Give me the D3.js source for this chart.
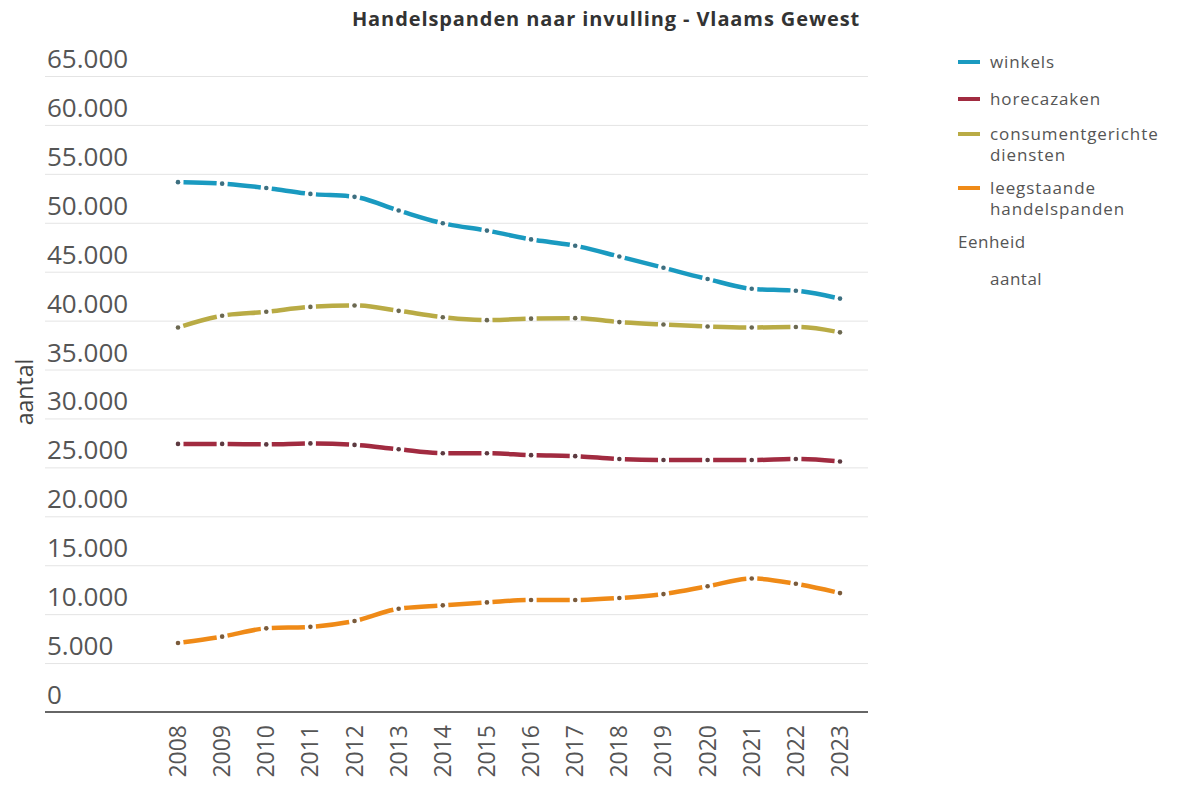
<!DOCTYPE html>
<html>
<head>
<meta charset="utf-8">
<script src="https://cdn.jsdelivr.net/npm/d3@7"></script>
<style>
  body { margin: 0; background: #fff; }
  text { font-family: "Open Sans", sans-serif; }
</style>
</head>
<body>
<svg width="1177" height="787"></svg>
<script>
// Data.
const years = [2008, 2009, 2010, 2011, 2012, 2013, 2014, 2015,
  2016, 2017, 2018, 2019, 2020, 2021, 2022, 2023];
const winkels = [54150, 54000, 53550, 52950, 52650, 51250, 49950, 49200,
  48300, 47650, 46550, 45400, 44250, 43250, 43050, 42250];
const horecazaken = [27400, 27400, 27350, 27450, 27300, 26850, 26450, 26450,
  26250, 26150, 25850, 25750, 25750, 25750, 25850, 25600];
const consumentgerichte = [39300, 40500, 40900, 41400, 41550, 41000, 40350, 40050,
  40200, 40250, 39850, 39600, 39400, 39300, 39350, 38800];
const leegstaand = [7050, 7700, 8550, 8700, 9300, 10550, 10900, 11200,
  11450, 11450, 11650, 12050, 12850, 13650, 13100, 12150];
const yTicks = [0, 5000, 10000, 15000, 20000, 25000, 30000, 35000,
  40000, 45000, 50000, 55000, 60000, 65000];

const series = [
  {name: ['winkels'], values: winkels, color: '#1a9ac0', dot: '#3d6f80'},
  {name: ['horecazaken'], values: horecazaken, color: '#a12b40', dot: '#5d3a40'},
  {name: ['consumentgerichte', 'diensten'], values: consumentgerichte,
    color: '#b9ab45', dot: '#6b6850'},
  {name: ['leegstaande', 'handelspanden'], values: leegstaand,
    color: '#ef8a17', dot: '#7a5a3a'},
];

const svg = d3.select('svg');
const plot = {left: 45, right: 868, top: 76, bottom: 712};

const x = d3.scalePoint()
    .domain(years)
    .range([178, 840]);
const y = d3.scaleLinear()
    .domain([0, 65000])
    .range([plot.bottom, plot.top]);

const fmt = v => d3.format(',')(v).replace(/,/g, '.');

// Title.
svg.append('text')
    .attr('x', 606)
    .attr('y', 26)
    .attr('text-anchor', 'middle')
    .attr('font-size', 20)
    .attr('font-weight', 'bold')
    .attr('letter-spacing', 0.9)
    .attr('fill', '#333')
    .text('Handelspanden naar invulling - Vlaams Gewest');

// Gridlines and y labels (labels sit above their gridline).
const grid = svg.append('g');
grid.selectAll('line')
    .data(yTicks.filter(d => d > 0))
    .join('line')
    .attr('x1', plot.left)
    .attr('x2', plot.right)
    .attr('y1', d => y(d) + 0.5)
    .attr('y2', d => y(d) + 0.5)
    .attr('stroke', '#e4e4e4');
grid.selectAll('text')
    .data(yTicks)
    .join('text')
    .attr('x', 47)
    .attr('y', d => y(d) - 8)
    .attr('font-size', 26)
    .attr('fill', '#555')
    .text(fmt);

// Baseline.
svg.append('line')
    .attr('x1', plot.left)
    .attr('x2', plot.right)
    .attr('y1', plot.bottom)
    .attr('y2', plot.bottom)
    .attr('stroke', '#666')
    .attr('stroke-width', 2);

// Year labels, rotated.
svg.append('g')
    .selectAll('text')
    .data(years)
    .join('text')
    .attr('transform', d => `translate(${x(d) + 8},725) rotate(-90)`)
    .attr('text-anchor', 'end')
    .attr('font-size', 23)
    .attr('fill', '#555')
    .text(d => d);

// Y axis title.
svg.append('text')
    .attr('transform', 'translate(33,392) rotate(-90)')
    .attr('text-anchor', 'middle')
    .attr('font-size', 23)
    .attr('fill', '#444')
    .text('aantal');

const line = d3.line()
    .x((d, i) => x(years[i]))
    .y(d => y(d))
    .curve(d3.curveMonotoneX);

// Finds the path length at which the curve reaches a given x.
function lengthAtX(node, targetX) {
  let lo = 0;
  let hi = node.getTotalLength();
  for (let k = 0; k < 30; k++) {
    const mid = (lo + hi) / 2;
    if (node.getPointAtLength(mid).x < targetX) lo = mid; else hi = mid;
  }
  return (lo + hi) / 2;
}

const lines = svg.append('g');
series.forEach(s => {
  const path = lines.append('path')
      .attr('d', line(s.values))
      .attr('fill', 'none')
      .attr('stroke', s.color)
      .attr('stroke-width', 4.5);
  // One dash per segment, with a gap around every data point.
  const node = path.node();
  const stops = years.map((yr, i) =>
    i === years.length - 1 ? node.getTotalLength() : lengthAtX(node, x(yr)));
  const gap = 5.5;
  const dash = [0, gap];
  for (let i = 1; i < stops.length; i++) {
    const len = stops[i] - stops[i - 1];
    dash.push(Math.max(len - 2 * gap, 0), i === stops.length - 1 ? gap : 2 * gap);
  }
  path.attr('stroke-dasharray', dash.join(' '));

  lines.append('g')
      .selectAll('circle')
      .data(s.values)
      .join('circle')
      .attr('cx', (d, i) => x(years[i]))
      .attr('cy', d => y(d))
      .attr('r', 2.3)
      .attr('fill', s.dot);
});

// Legend.
const legend = svg.append('g');
const rows = [62, 99, 134, 188];
series.forEach((s, i) => {
  legend.append('line')
      .attr('x1', 958)
      .attr('x2', 980)
      .attr('y1', rows[i])
      .attr('y2', rows[i])
      .attr('stroke', s.color)
      .attr('stroke-width', 4);
  s.name.forEach((t, j) => {
    legend.append('text')
        .attr('x', 990)
        .attr('y', rows[i] + 6 + j * 21)
        .attr('font-size', 17)
        .attr('letter-spacing', 0.9)
        .attr('fill', '#555')
        .text(t);
  });
});
legend.append('text')
    .attr('x', 958)
    .attr('y', 248)
    .attr('font-size', 17)
    .attr('letter-spacing', 0.5)
    .attr('fill', '#555')
    .text('Eenheid');
legend.append('text')
    .attr('x', 990)
    .attr('y', 285)
    .attr('font-size', 17)
    .attr('letter-spacing', 0.5)
    .attr('fill', '#555')
    .text('aantal');
</script>
</body>
</html>
